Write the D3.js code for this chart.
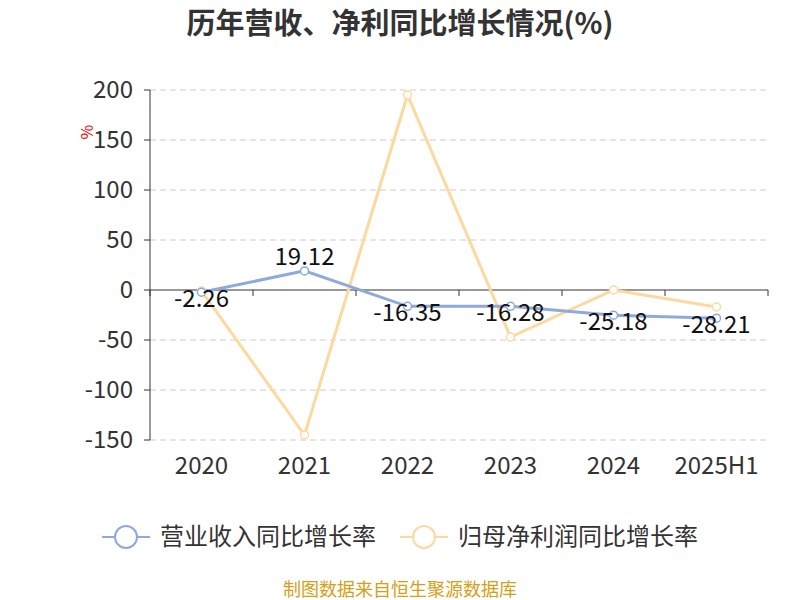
<!DOCTYPE html><html><head><meta charset="utf-8"><script src="https://cdn.jsdelivr.net/npm/d3@7"></script>
<style>body{margin:0;background:#fff}text{font-family:"Noto Sans CJK SC","Noto Sans",sans-serif}</style></head><body><svg id="c" width="800" height="600"></svg><script>
const categories=["2020","2021","2022","2023","2024","2025H1"];
const revenue=[-2.26,19.12,-16.35,-16.28,-25.18,-28.21];
const profit=[-1,-145,195,-47,0,-17];
const yTicks=[200,150,100,50,0,-50,-100,-150];
const svg=d3.select("#c");
const x=d3.scaleBand().domain(categories).range([150,768]);
const y=d3.scaleLinear().domain([-150,200]).range([440,90]);
const cx=d=>x(d)+x.bandwidth()/2;
svg.append("text").attr("x",400).attr("y",34).attr("text-anchor","middle").attr("font-size",29).attr("font-weight","bold").attr("fill","#333").text("历年营收、净利同比增长情况(%)");
yTicks.forEach(t=>{
 svg.append("line").attr("x1",150).attr("x2",768).attr("y1",y(t)).attr("y2",y(t)).attr("stroke","#ccc").attr("stroke-dasharray","6,4").attr("opacity",t===0?0:1);
 svg.append("line").attr("x1",144).attr("x2",150).attr("y1",y(t)).attr("y2",y(t)).attr("stroke","#333");
 svg.append("text").attr("x",133).attr("y",y(t)+8).attr("text-anchor","end").attr("font-size",24).attr("fill","#333").text(t);
});
svg.append("line").attr("x1",150).attr("x2",150).attr("y1",90).attr("y2",440).attr("stroke","#333");
svg.append("line").attr("x1",150).attr("x2",768).attr("y1",y(0)).attr("y2",y(0)).attr("stroke","#333");
categories.concat([null]).forEach((c,i)=>{const px=150+i*x.bandwidth();svg.append("line").attr("x1",px).attr("x2",px).attr("y1",y(0)).attr("y2",y(0)+6).attr("stroke","#333");});
categories.forEach(c=>svg.append("text").attr("x",cx(c)).attr("y",474).attr("text-anchor","middle").attr("font-size",24).attr("fill","#333").text(c));
svg.append("text").attr("transform","translate(93,132) rotate(-90)").attr("text-anchor","middle").attr("font-size",16).attr("fill","#e00").text("%");
const line=d3.line().x((d,i)=>cx(categories[i])).y(d=>y(d));
[[profit,"#fcd99e"],[revenue,"#8eaadb"]].forEach(([s,col])=>{
 svg.append("path").attr("d",line(s)).attr("fill","none").attr("stroke",col).attr("stroke-width",3);
 s.forEach((v,i)=>svg.append("circle").attr("cx",cx(categories[i])).attr("cy",y(v)).attr("r",4).attr("fill","#fff").attr("stroke",col).attr("stroke-width",1.5));
});
revenue.forEach((v,i)=>svg.append("text").attr("x",cx(categories[i])).attr("y",y(v)+(v>0?-14:7)+8).attr("text-anchor","middle").attr("font-size",24).attr("fill","#111").text(v));
const leg=[["营业收入同比增长率","#8eaadb",102],["归母净利润同比增长率","#fcd99e",400]];
leg.forEach(([t,col,lx])=>{
 svg.append("line").attr("x1",lx).attr("x2",lx+48).attr("y1",537).attr("y2",537).attr("stroke",col).attr("stroke-width",2);
 svg.append("circle").attr("cx",lx+24).attr("cy",537).attr("r",11).attr("fill","#fff").attr("stroke",col).attr("stroke-width",2);
 svg.append("text").attr("x",lx+58).attr("y",545).attr("font-size",24).attr("fill","#333").text(t);
});
svg.append("text").attr("x",400).attr("y",596).attr("text-anchor","middle").attr("font-size",18).attr("fill","#d4a017").text("制图数据来自恒生聚源数据库");
</script></body></html>
